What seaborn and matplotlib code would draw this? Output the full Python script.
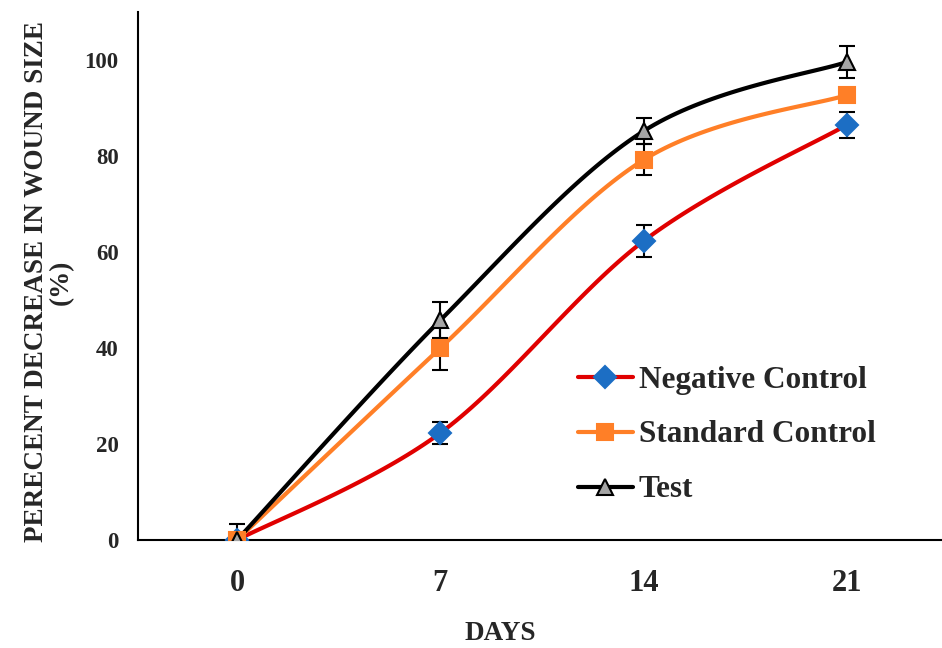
import numpy as np
import pandas as pd
import matplotlib
matplotlib.use("Agg")
import matplotlib.pyplot as plt
from matplotlib.lines import Line2D
import seaborn as sns

# ---- data ----
days = [0, 7, 14, 21]
negative_control = [0.0, 22.3, 62.3, 86.5]
negative_err = [0.0, 2.2, 3.3, 2.7]
standard_control = [0.0, 40.0, 79.2, 92.7]
standard_err = [0.0, 4.6, 3.2, 1.0]
test = [0.0, 45.8, 85.2, 99.6]
test_err = [3.3, 3.8, 2.7, 3.3]
series_names = ["Negative Control", "Standard Control", "Test"]
y_ticks = [0, 20, 40, 60, 80, 100]

sns.set_theme(style="white")
plt.rcParams["font.family"] = ["Liberation Serif", "DejaVu Serif"]
plt.rcParams["font.weight"] = "bold"

fig = plt.figure(figsize=(9.42, 6.48), dpi=100)
ax = fig.add_axes([138 / 942, 1 - 540 / 648, 1 - 138 / 942, (540 - 12) / 648])


def smooth(xs, ys, n=40):
    # Excel-style smoothed line (Catmull-Rom / cubic Bezier)
    P = np.column_stack([xs, ys]).astype(float)
    P = np.vstack([P[0], P, P[-1]])
    out = []
    for i in range(1, len(P) - 2):
        p0, p1, p2, p3 = P[i - 1], P[i], P[i + 1], P[i + 2]
        c1 = p1 + (p2 - p0) / 6
        c2 = p2 - (p3 - p1) / 6
        t = np.linspace(0, 1, n)[:, None]
        seg = ((1 - t) ** 3) * p1 + 3 * ((1 - t) ** 2) * t * c1 + 3 * (1 - t) * t ** 2 * c2 + t ** 3 * p2
        out.append(seg if i == 1 else seg[1:])
    return np.vstack(out)


styles = [
    dict(color="#E00000", marker="D", mfc="#1C6EC4", mec="#1C6EC4", ms=11),
    dict(color="#FF7F27", marker="s", mfc="#FF7F27", mec="#FF7F27", ms=12),
    dict(color="#000000", marker="^", mfc="#A5A5A5", mec="#000000", ms=12),
]
values = [negative_control, standard_control, test]
errors = [negative_err, standard_err, test_err]

for name, vals, st in zip(series_names, values, styles):
    curve = smooth(days, vals)
    df = pd.DataFrame({"x": curve[:, 0], "y": curve[:, 1]})
    sns.lineplot(data=df, x="x", y="y", sort=False, estimator=None,
                 color=st["color"], lw=3, ax=ax, zorder=2)

for name, vals, errs, st in zip(series_names, values, errors, styles):
    ax.errorbar(days, vals, yerr=errs, fmt="none", ecolor="black",
                elinewidth=1.5, capsize=6, capthick=1.5, zorder=3)
    ax.plot(days, vals, ls="none", marker=st["marker"], mfc=st["mfc"],
            mec=st["mec"], ms=st["ms"], mew=1.5, zorder=4)

ax.set_xlim(-3.41, 24.27)
ax.set_ylim(0, 110)
ax.set_xticks(days)
ax.set_xticklabels([str(d) for d in days], fontsize=22, fontweight="bold")
ax.set_yticks(y_ticks)
ax.set_yticklabels([str(v) for v in y_ticks], fontsize=16.5, fontweight="bold")
ax.tick_params(axis="x", length=0, pad=21)
ax.tick_params(axis="y", length=0, pad=14)
for s in ["top", "right"]:
    ax.spines[s].set_visible(False)
for s in ["left", "bottom"]:
    ax.spines[s].set_color("black")
    ax.spines[s].set_linewidth(1.5)
ax.set_xlabel("")
ax.set_ylabel("")

fig.text(500 / 942, 1 - 634 / 648, "DAYS", ha="center", va="center",
         fontsize=19.5, fontweight="bold")
fig.text(49 / 942, 1 - 282 / 648, "PERECENT DECREASE IN WOUND SIZE\n(%)",
         rotation=90, ha="center", va="center", fontsize=19.5,
         fontweight="bold", linespacing=1.0, multialignment="center")

handles = [Line2D([], [], color=st["color"], lw=3, marker=st["marker"],
                  mfc=st["mfc"], mec=st["mec"], ms=st["ms"], mew=1.5)
           for st in styles]
ax.legend(handles, series_names, loc="center left",
          bbox_to_anchor=(578 / 942, 1 - 435 / 648), bbox_transform=fig.transFigure,
          frameon=False, prop=dict(family="Liberation Serif", weight="bold", size=22.5),
          handlelength=1.75, handletextpad=0.2, labelspacing=0.83,
          borderpad=0, borderaxespad=0)

fig.savefig("out.png", dpi=100)
